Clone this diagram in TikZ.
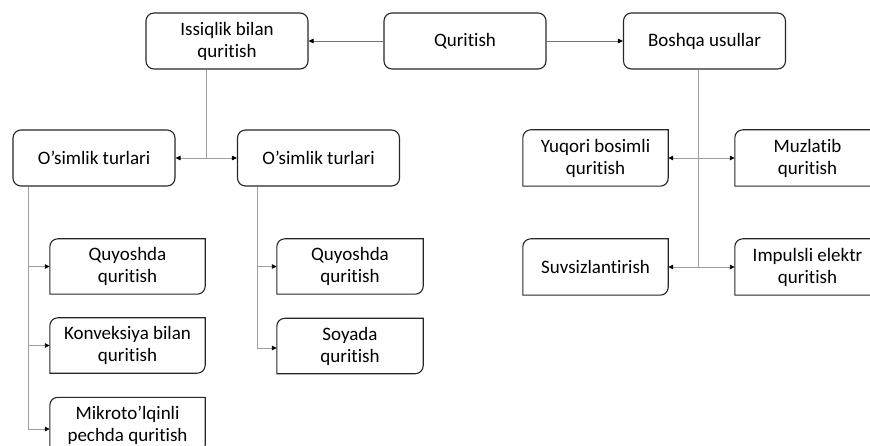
\documentclass[tikz,border=0pt]{standalone}
\usepackage{fontspec}
\setmainfont{Carlito}[Ligatures={NoCommon}]
\usetikzlibrary{arrows.meta}
\newcommand{\cutbox}[1]{%
  \draw[boxline] (#1.south west) -- ([yshift=-8pt]#1.north west)
    arc[start angle=180,end angle=90,radius=8pt] -- (#1.north east)
    -- ([yshift=8pt]#1.south east)
    arc[start angle=0,end angle=-90,radius=8pt] -- cycle;}
\begin{document}
\begin{tikzpicture}[x=1pt,y=1pt,
  boxline/.style={draw=black!85,line width=1.1pt},
  mainbox/.style={boxline,rounded corners=8pt,minimum width=162pt,minimum height=56pt,
    align=center,inner sep=0pt,font=\fontsize{19}{22}\selectfont},
  subbox/.style={minimum width=#1,minimum height=55pt,align=center,inner sep=0pt,
    font=\fontsize{19}{22}\selectfont},
  subbox/.default=155pt,
  link/.style={draw=black!38,line width=0.9pt},
  conn/.style={link,-{Triangle[length=5pt,width=4.5pt,color=black]}},
  conndark/.style={draw=black!55,line width=0.9pt,-{Triangle[length=5pt,width=4.5pt,color=black]}}]
\useasboundingbox (0,0) rectangle (870,-446);
\clip (0,0) rectangle (870,-446);
% top row
\node[mainbox] (iss) at (227,-41) {Issiqlik bilan\\quritish};
\node[mainbox] (qur) at (465,-41) {Quritish};
\node[mainbox] (bos) at (704.5,-41) {Boshqa usullar};
\draw[conndark] (qur.west) -- (iss.east);
\draw[conndark] (qur.east) -- (bos.west);
% second row left
\node[mainbox] (os1) at (94,-158) {O’simlik turlari};
\node[mainbox] (os2) at (318.5,-158) {O’simlik turlari};
\coordinate (j1) at (206,-158);
\draw[link] (j1 |- iss.south) -- (j1);
\draw[conn] (j1) -- (os1.east);
\draw[conn] (j1) -- (os2.east -| os2.west);
% left column children
\node[subbox] (q1) at (127.5,-266.5) {Quyoshda\\quritish};
\node[subbox] (kon) at (127.5,-345.5) {Konveksiya bilan\\quritish};
\node[subbox] (mik) at (127.5,-425) {Mikroto’lqinli\\pechda quritish};
\cutbox{q1}\cutbox{kon}\cutbox{mik}
\coordinate (v1) at (28,-429);
\draw[link] (v1 |- os1.south) -- (v1);
\draw[conn] (v1 |- q1.west) -- (q1.west);
\draw[conn] (v1 |- kon.west) -- (kon.west);
\draw[conn] (v1) -- (v1 -| mik.west);
% second column children
\node[subbox=146pt] (q2) at (350,-266.5) {Quyoshda\\quritish};
\node[subbox=146pt] (soy) at (350,-346) {Soyada\\quritish};
\cutbox{q2}\cutbox{soy}
\coordinate (v2) at (257,-348);
\draw[link] (v2 |- os2.south) -- (v2);
\draw[conn] (v2 |- q2.west) -- (q2.west);
\draw[conn] (v2) -- (v2 -| soy.west);
% right side
\node[subbox=145pt,minimum height=56pt] (yuq) at (595.5,-158) {Yuqori bosimli\\quritish};
\node[subbox=145pt,minimum height=56pt] (muz) at (807.5,-158) {Muzlatib\\quritish};
\node[subbox=145pt,minimum height=56pt] (suv) at (595.5,-267) {Suvsizlantirish};
\node[subbox=145pt,minimum height=56pt] (imp) at (807.5,-267) {Impulsli elektr\\quritish};
\cutbox{yuq}\cutbox{muz}\cutbox{suv}\cutbox{imp}
\coordinate (j2) at (698,-158);
\coordinate (j3) at (698,-267);
\draw[link] (j3 |- bos.south) -- (j3);
\draw[conn] (j2) -- (yuq.east);
\draw[conn] (j2) -- (muz.west);
\draw[conn] (j3) -- (suv.east);
\draw[conn] (j3) -- (imp.west);
\end{tikzpicture}
\end{document}
